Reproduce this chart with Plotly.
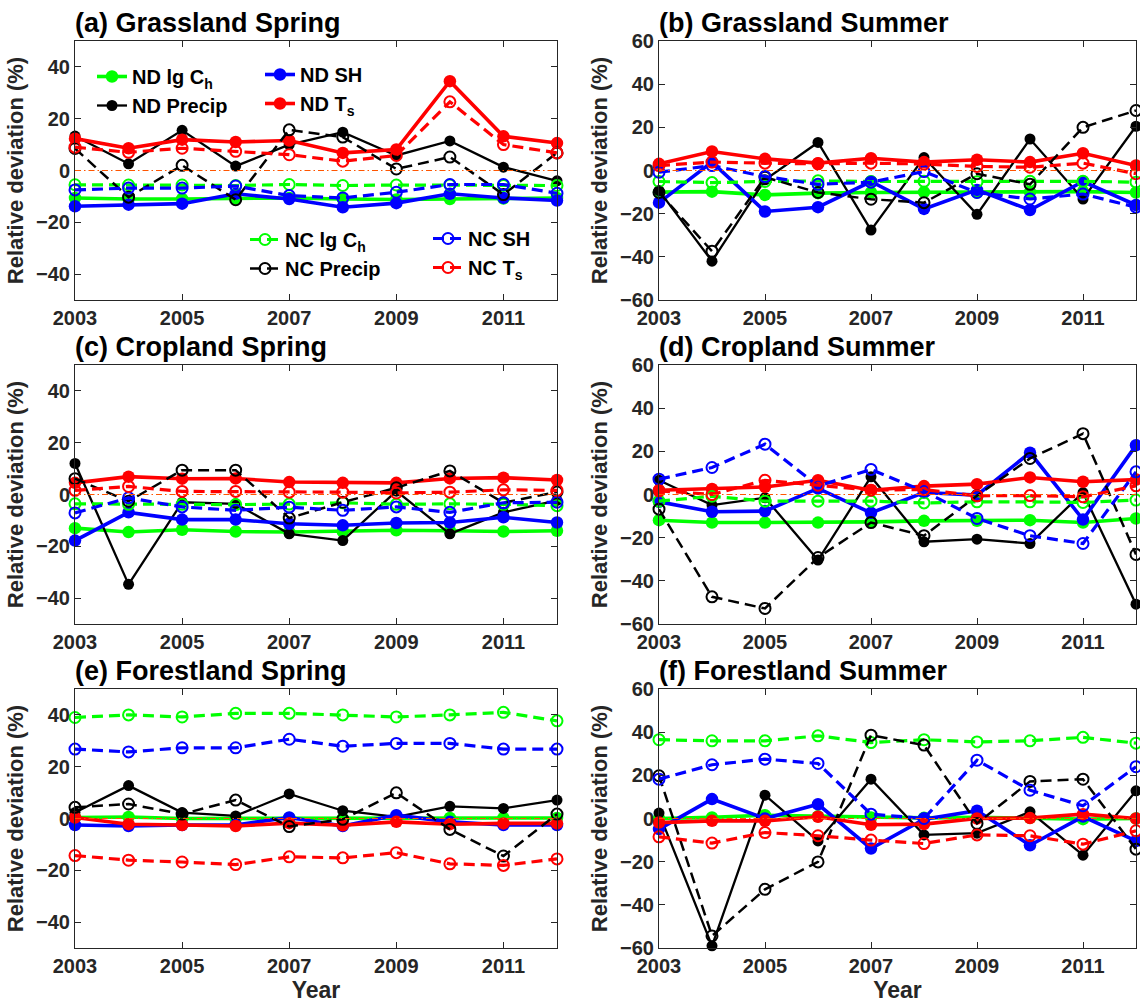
import plotly.graph_objects as go
from plotly.subplots import make_subplots

years = [2003, 2004, 2005, 2006, 2007, 2008, 2009, 2010, 2011, 2012]
x_ticks = [2003, 2005, 2007, 2009, 2011]
y_ticks_spring = [-40, -20, 0, 20, 40]
y_ticks_summer = [-60, -40, -20, 0, 20, 40, 60]

# (a) Grassland Spring
a_nd_lgch = [-10.6, -11.0, -11.0, -10.8, -10.6, -11.0, -11.2, -11.0, -10.8, -10.6]
a_nd_precip = [13.3, 2.6, 15.5, 1.7, 10.0, 14.8, 5.8, 11.4, 1.3, -4.0]
a_nd_sh = [-13.8, -13.2, -12.8, -9.0, -11.0, -14.2, -12.6, -9.0, -10.6, -11.6]
a_nd_ts = [12.3, 8.6, 11.9, 11.0, 11.6, 6.8, 8.1, 34.5, 13.2, 10.6]
a_nc_lgch = [-5.5, -5.6, -5.6, -5.8, -5.4, -5.8, -5.6, -5.6, -5.8, -5.8]
a_nc_precip = [8.5, -10.3, 2.0, -11.3, 15.7, 12.9, 0.6, 5.2, -9.3, 6.8]
a_nc_sh = [-7.5, -6.8, -6.8, -6.0, -9.7, -10.6, -8.4, -5.4, -5.4, -8.8]
a_nc_ts = [9.0, 7.0, 8.6, 7.4, 6.1, 3.6, 5.8, 26.5, 10.0, 6.8]

# (b) Grassland Summer
b_nd_lgch = [-10.0, -9.8, -11.3, -10.5, -10.2, -10.0, -10.2, -10.0, -9.8, -10.2]
b_nd_precip = [-9.3, -42.0, -4.3, 13.0, -27.6, 6.0, -20.3, 14.6, -13.2, 20.5]
b_nd_sh = [-14.9, 3.9, -19.0, -17.0, -5.1, -17.8, -9.0, -18.3, -5.1, -16.0]
b_nd_ts = [3.1, 8.8, 5.4, 3.4, 5.7, 3.9, 5.0, 3.9, 8.0, 2.3]
b_nc_lgch = [-5.1, -5.6, -5.1, -4.8, -5.1, -5.0, -5.2, -5.0, -5.0, -5.4]
b_nc_precip = [-10.2, -37.4, -3.1, -10.2, -13.3, -14.9, -1.5, -6.4, 20.0, 27.8]
b_nc_sh = [-0.8, 2.3, -2.8, -6.4, -5.4, -0.5, -10.2, -13.2, -10.9, -17.0]
b_nc_ts = [2.3, 3.9, 3.4, 3.1, 3.4, 3.0, 1.9, 1.5, 3.4, -1.5]

# (c) Cropland Spring
c_nd_lgch = [-13.0, -14.5, -13.6, -14.3, -14.5, -14.3, -13.8, -14.0, -14.3, -14.0]
c_nd_precip = [12.0, -34.7, -3.0, -3.6, -15.2, -17.8, 1.3, -15.2, -6.9, -2.3]
c_nd_sh = [-17.8, -6.9, -9.7, -9.7, -11.3, -11.9, -11.0, -10.8, -8.8, -10.8]
c_nd_ts = [4.5, 6.9, 6.1, 6.2, 4.8, 4.5, 4.5, 6.2, 6.5, 5.6]
c_nc_lgch = [-3.6, -3.8, -3.8, -3.9, -3.7, -3.2, -3.8, -3.6, -3.8, -4.3]
c_nc_precip = [6.1, -2.6, 9.4, 9.4, -9.1, -3.0, 2.6, 9.1, -3.2, 1.0]
c_nc_sh = [-7.1, -1.3, -4.8, -6.1, -4.9, -6.1, -4.8, -6.9, -3.2, -3.0]
c_nc_ts = [1.6, 3.1, 1.2, 1.2, 0.9, 0.9, 0.6, 0.9, 1.8, 1.6]

# (d) Cropland Summer
d_nd_lgch = [-11.9, -13.0, -13.0, -13.0, -12.7, -12.2, -12.2, -11.9, -13.0, -11.1]
d_nd_precip = [6.6, -4.9, -1.5, -30.4, 8.2, -21.9, -20.7, -22.7, 0.9, -50.8]
d_nd_sh = [-3.4, -8.0, -7.7, 2.8, -8.5, 0.9, -0.3, 19.4, -11.6, 22.8]
d_nd_ts = [2.0, 2.6, 3.5, 6.6, 2.0, 3.9, 4.8, 7.9, 5.9, 6.9]
d_nc_lgch = [-3.1, -0.8, -3.1, -3.1, -3.1, -3.9, -3.4, -3.4, -3.7, -2.6]
d_nc_precip = [-6.8, -47.4, -52.8, -29.2, -13.0, -19.1, -0.6, 16.7, 28.2, -27.8]
d_nc_sh = [7.1, 12.5, 23.3, 3.9, 11.6, 1.5, -11.1, -19.1, -22.7, 10.5]
d_nc_ts = [1.7, 0.0, 6.6, 4.3, 2.0, 2.3, -0.6, -0.5, -1.1, 4.0]

# (e) Forestland Spring
e_nd_lgch = [0.4, 0.6, 0.0, 0.0, 0.2, 0.0, 0.2, 0.2, 0.2, 0.2]
e_nd_precip = [2.3, 12.7, 2.3, 1.0, 9.5, 3.0, 0.6, 4.7, 3.9, 7.1]
e_nd_sh = [-2.5, -2.9, -2.5, -2.5, 0.4, -2.9, 1.3, -1.3, -2.5, -2.5]
e_nd_ts = [0.4, -2.2, -2.5, -2.9, -1.8, -2.6, -1.3, -2.2, -1.9, -1.9]
e_nc_lgch = [39.0, 40.0, 39.2, 40.6, 40.6, 40.0, 39.2, 40.0, 41.0, 37.7]
e_nc_precip = [4.3, 5.6, 1.7, 7.1, -3.1, -0.3, 9.9, -4.2, -14.5, 1.7]
e_nc_sh = [26.8, 25.7, 27.3, 27.3, 30.6, 27.9, 29.0, 29.0, 26.8, 26.8]
e_nc_ts = [-14.3, -16.1, -16.8, -17.8, -14.8, -15.2, -13.2, -17.5, -18.1, -15.6]

# (f) Forestland Summer
f_nd_lgch = [0.0, 0.5, 1.5, 1.0, 0.5, 0.3, 0.5, 0.3, -0.3, 0.0]
f_nd_precip = [2.5, -59.0, 10.8, -10.4, 18.2, -7.6, -6.8, 3.1, -17.0, 12.8]
f_nd_sh = [-4.9, 9.0, 0.0, 6.6, -13.9, -0.3, 3.6, -12.4, 0.9, -10.4]
f_nd_ts = [-1.9, -1.1, -1.1, 0.8, -2.9, -2.6, 0.0, 0.2, 2.0, 0.0]
f_nc_lgch = [36.5, 36.0, 36.0, 38.3, 35.2, 36.5, 35.5, 36.0, 37.6, 34.9]
f_nc_precip = [19.8, -54.4, -32.8, -20.1, 38.6, 34.0, -2.3, 17.2, 18.2, -14.2]
f_nc_sh = [18.2, 24.9, 27.5, 25.5, 2.0, 0.0, 27.0, 13.1, 5.9, 24.0]
f_nc_ts = [-8.5, -11.4, -6.5, -8.0, -10.0, -11.6, -7.6, -8.0, -11.9, -5.7]

panel_titles = ["(a) Grassland Spring", "(b) Grassland Summer",
                "(c) Cropland Spring", "(d) Cropland Summer",
                "(e) Forestland Spring", "(f) Forestland Summer"]
series_names = ["ND lg C<sub>h</sub>", "ND Precip", "ND SH", "ND T<sub>s</sub>",
                "NC lg C<sub>h</sub>", "NC Precip", "NC SH", "NC T<sub>s</sub>"]

panels = [
    [a_nd_lgch, a_nd_precip, a_nd_sh, a_nd_ts, a_nc_lgch, a_nc_precip, a_nc_sh, a_nc_ts],
    [b_nd_lgch, b_nd_precip, b_nd_sh, b_nd_ts, b_nc_lgch, b_nc_precip, b_nc_sh, b_nc_ts],
    [c_nd_lgch, c_nd_precip, c_nd_sh, c_nd_ts, c_nc_lgch, c_nc_precip, c_nc_sh, c_nc_ts],
    [d_nd_lgch, d_nd_precip, d_nd_sh, d_nd_ts, d_nc_lgch, d_nc_precip, d_nc_sh, d_nc_ts],
    [e_nd_lgch, e_nd_precip, e_nd_sh, e_nd_ts, e_nc_lgch, e_nc_precip, e_nc_sh, e_nc_ts],
    [f_nd_lgch, f_nd_precip, f_nd_sh, f_nd_ts, f_nc_lgch, f_nc_precip, f_nc_sh, f_nc_ts],
]

GREEN, BLACK, BLUE, RED = "#00FF00", "#000000", "#0000FF", "#FF0000"
colors = [GREEN, BLACK, BLUE, RED, GREEN, BLACK, BLUE, RED]
legend_ids = ["legend", "legend", "legend2", "legend2",
              "legend3", "legend3", "legend4", "legend4"]

FONT = "Liberation Sans, Arial, sans-serif"
W, H = 1140, 1003

def style(i):
    solid = i < 4
    is_black = colors[i] == BLACK
    if solid:
        line = dict(color=colors[i], width=2.3 if is_black else 3.6)
        marker = dict(symbol="circle", size=11 if is_black else 12.5,
                      color=colors[i], line=dict(width=0))
    else:
        line = dict(color=colors[i], width=2.5 if is_black else 3.2, dash="11px,6px")
        marker = dict(symbol="circle-open", size=11,
                      color=colors[i], line=dict(width=2, color=colors[i]))
    return line, marker

fig = make_subplots(rows=3, cols=2)

x_dom = [[75 / W, 557 / W], [659 / W, 1136 / W]]
rows_px = [(41, 300), (365, 624), (689, 948)]
y_dom = [[1 - b / H, 1 - t / H] for t, b in rows_px]

for p, data in enumerate(panels):
    r, c = p // 2 + 1, p % 2 + 1
    for i, vals in enumerate(data):
        line, marker = style(i)
        fig.add_trace(go.Scatter(
            x=years, y=vals, mode="lines+markers", name=series_names[i],
            line=line, marker=marker, cliponaxis=False,
            showlegend=(p == 0), legend=legend_ids[i], hoverinfo="skip"),
            row=r, col=c)

tick_font = dict(family=FONT, size=20, color="#262626", weight="bold")
title_font = dict(family=FONT, size=22, color="#262626", weight="bold")

annotations = []
shapes = []
for p in range(6):
    r, c = p // 2, p % 2
    ax = "" if p == 0 else str(p + 1)
    summer = c == 1
    fig.layout["xaxis" + ax].update(
        domain=x_dom[c], range=[years[0], years[-1]], tickvals=x_ticks,
        ticks="inside", ticklen=6, tickcolor="#262626", tickwidth=1,
        showline=True, linecolor="#262626", linewidth=1, mirror="ticks",
        showgrid=False, zeroline=False, tickfont=tick_font)
    if r == 2:
        fig.layout["xaxis" + ax].update(
            title=dict(text="Year", font=dict(family=FONT, size=23, color="#262626", weight="bold"), standoff=2))
    fig.layout["yaxis" + ax].update(
        domain=y_dom[r], range=[-60, 60] if summer else [-50, 50],
        tickvals=y_ticks_summer if summer else y_ticks_spring,
        ticks="inside", ticklen=6, tickcolor="#262626", tickwidth=1,
        showline=True, linecolor="#262626", linewidth=1, mirror="ticks",
        showgrid=False, zeroline=False, tickfont=tick_font,
        title=dict(text="Relative deviation (%)", font=title_font, standoff=6))
    xref = "x" + ax
    yref = "y" + ax
    shapes.append(dict(type="line", xref=xref + " domain", x0=0, x1=1,
                       yref=yref, y0=0, y1=0,
                       line=dict(color="#FF5500", width=1, dash="6px,3px,1.5px,3px"),
                       layer="above"))
    annotations.append(dict(text=panel_titles[p], xref="paper", yref="paper",
                            x=x_dom[c][0] - 2 / W, y=1 - (rows_px[r][0] - 18) / H,
                            xanchor="left", yanchor="middle", showarrow=False,
                            font=dict(family=FONT, size=27, color="black", weight="bold")))

leg_font = dict(family=FONT, size=20, color="black", weight="bold")
def leg(xpx, ypx):
    return dict(x=xpx / W, y=1 - ypx / H, xanchor="left", yanchor="top",
                bgcolor="rgba(0,0,0,0)", borderwidth=0, font=leg_font,
                tracegroupgap=0, itemclick=False, itemdoubleclick=False)

fig.update_layout(
    width=W, height=H, template="none",
    margin=dict(l=0, r=0, t=0, b=0),
    paper_bgcolor="white", plot_bgcolor="white",
    showlegend=True,
    legend=leg(92, 57), legend2=leg(260, 55),
    legend3=leg(245, 220), legend4=leg(428, 219),
    annotations=annotations, shapes=shapes,
)

fig.write_html("out.html", config={"displayModeBar": False})
